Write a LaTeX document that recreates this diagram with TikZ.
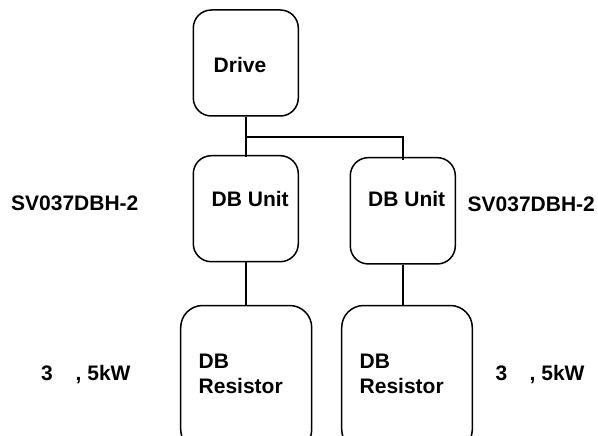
\documentclass[tikz,border=0pt]{standalone}
\usepackage{fontspec}
\setmainfont{Liberation Sans}
\begin{document}
\begin{tikzpicture}[x=1pt,y=-1pt,
  box/.style={draw=black,line width=1.5pt,rounded corners=#1,inner sep=0pt},
  lbl/.style={anchor=base west,inner sep=0pt,font=\bfseries\fontsize{21}{24}\selectfont,align=left},
  wire/.style={draw=black,line width=1.5pt}]
\useasboundingbox (0,0) rectangle (598,436);
\clip (0,0) rectangle (598,436);
\node[box=18pt,minimum width=105pt,minimum height=106pt] (drive) at (245.8,63) {};
\node[box=18pt,minimum width=105pt,minimum height=106pt] (unitL) at (245.8,208.7) {};
\node[box=18pt,minimum width=105pt,minimum height=106.3pt] (unitR) at (402.8,210.8) {};
\node[box=22pt,minimum width=131pt,minimum height=146pt] (resL) at (246.2,378.5) {};
\node[box=22pt,minimum width=130.6pt,minimum height=146pt] (resR) at (407,378.5) {};
\coordinate (tee) at (246,137);
\draw[wire] (drive.south -| tee) -- ([yshift=-2.5pt]unitL.north -| tee);
\draw[wire] (tee) -| ([yshift=-3pt]unitR.north);
\draw[wire] (unitL.south -| tee) -- (resL.north -| tee);
\draw[wire] (unitR.south) -- (resR.north -| unitR.south);
\node[lbl] (t1) at (213.5,72.7) {Drive};
\node[lbl] (t2) at (211.5,206.7) {DB Unit};
\node[lbl] (t3) at (368,206.7) {DB Unit};
\node[lbl] (t4) at (11,210.5) {SV037DBH-2};
\node[lbl] (t5) at (467.5,211.5) {SV037DBH-2};
\node[lbl] (t6) at (198.5,368.7) {DB};
\node[lbl] (t7) at (198.5,393.7) {Resistor};
\node[lbl] (t8) at (359.5,368.7) {DB};
\node[lbl] (t9) at (359.5,393.7) {Resistor};
\node[lbl] (t10) at (41,380) {3};
\node[lbl] (t11) at (75.5,380) {, 5kW};
\node[lbl] (t12) at (495.5,380) {3};
\node[lbl] (t13) at (529.5,380) {, 5kW};
\end{tikzpicture}
\end{document}
